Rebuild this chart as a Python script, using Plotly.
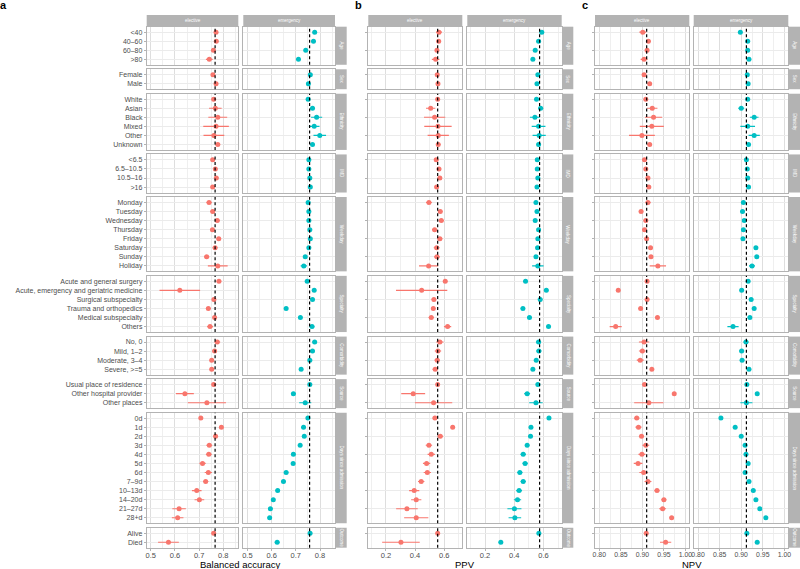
import plotly.graph_objects as go

# ---------------- data ----------------
group_names = ["Age", "Sex", "Ethnicity", "IMD", "Weekday", "Specialty",
               "Comorbidity", "Source", "Days since admission", "Outcome"]
age = ["<40", "40–60", "60–80", ">80"]
sex = ["Female", "Male"]
ethnicity = ["White", "Asian", "Black", "Mixed", "Other", "Unknown"]
imd = ["<6.5", "6.5–10.5", "10.5–16", ">16"]
weekday = ["Monday", "Tuesday", "Wednesday", "Thursday", "Friday", "Saturday", "Sunday", "Holiday"]
specialty = ["Acute and general surgery", "Acute, emergency and geriatric medicine",
             "Surgical subspecialty", "Trauma and orthopedics", "Medical subspecialty", "Others"]
comorbidity = ["No, 0", "Mild, 1–2", "Moderate, 3–4", "Severe, >=5"]
source = ["Usual place of residence", "Other hospital provider", "Other places"]
days = ["0d", "1d", "2d", "3d", "4d", "5d", "6d", "7–9d", "10–13d", "14–20d", "21–27d", "28+d"]
outcome = ["Alive", "Died"]
groups = [age, sex, ethnicity, imd, weekday, specialty, comorbidity, source, days, outcome]

# Balanced accuracy
ba_el = [0.770, 0.771, 0.759, 0.742,
         0.757, 0.770,
         0.760, 0.767, 0.777, 0.770, 0.761, 0.777,
         0.756, 0.767, 0.771, 0.756,
         0.741, 0.756, 0.775, 0.755, 0.781, 0.766, 0.731, 0.777,
         0.782, 0.620, 0.761, 0.738, 0.764, 0.745,
         0.775, 0.764, 0.752, 0.752,
         0.760, 0.641, 0.732,
         0.707, 0.792, 0.768, 0.742, 0.740, 0.714, 0.738, 0.727, 0.690, 0.701, 0.617, 0.611,
         0.760, 0.573]
ba_el_ci = [0.008, 0.008, 0.006, 0.014,
            0.006, 0.006,
            0.006, 0.026, 0.039, 0.053, 0.043, 0.010,
            0.008, 0.008, 0.009, 0.008,
            0.011, 0.010, 0.010, 0.009, 0.010, 0.010, 0.011, 0.041,
            0.009, 0.084, 0.008, 0.010, 0.007, 0.012,
            0.012, 0.010, 0.008, 0.007,
            0.005, 0.037, 0.079,
            0.008, 0.007, 0.010, 0.012, 0.012, 0.013, 0.015, 0.011, 0.020, 0.020, 0.028, 0.024,
            0.005, 0.043]
ba_em = [0.778, 0.773, 0.741, 0.711,
         0.760, 0.752,
         0.751, 0.769, 0.786, 0.776, 0.799, 0.769,
         0.754, 0.754, 0.758, 0.760,
         0.751, 0.754, 0.754, 0.758, 0.760, 0.754, 0.739, 0.733,
         0.747, 0.776, 0.769, 0.660, 0.719, 0.767,
         0.778, 0.769, 0.758, 0.722,
         0.758, 0.690, 0.739,
         0.750, 0.732, 0.735, 0.718, 0.690, 0.689, 0.660, 0.649, 0.625, 0.607, 0.595, 0.592,
         0.759, 0.623]
ba_em_ci = [0.004, 0.004, 0.004, 0.004,
            0.003, 0.003,
            0.003, 0.010, 0.023, 0.022, 0.026, 0.006,
            0.004, 0.004, 0.004, 0.004,
            0.005, 0.005, 0.005, 0.005, 0.005, 0.005, 0.008, 0.013,
            0.005, 0.006, 0.006, 0.006, 0.005, 0.010,
            0.010, 0.008, 0.005, 0.005,
            0.003, 0.010, 0.025,
            0.005, 0.006, 0.006, 0.007, 0.008, 0.008, 0.009, 0.008, 0.008, 0.008, 0.009, 0.009,
            0.003, 0.010]

# PPV
ppv_el = [0.564, 0.562, 0.550, 0.541,
          0.552, 0.557,
          0.555, 0.507, 0.534, 0.557, 0.559, 0.559,
          0.545, 0.564, 0.570, 0.548,
          0.495, 0.573, 0.580, 0.534, 0.570, 0.548, 0.550, 0.493,
          0.607, 0.445, 0.529, 0.525, 0.511, 0.623,
          0.570, 0.557, 0.552, 0.538,
          0.555, 0.387, 0.527,
          0.536, 0.658, 0.573, 0.495, 0.511, 0.479, 0.484, 0.442, 0.394, 0.408, 0.344, 0.408,
          0.555, 0.303]
ppv_el_ci = [0.020, 0.015, 0.012, 0.026,
             0.010, 0.010,
             0.010, 0.032, 0.073, 0.094, 0.073, 0.015,
             0.015, 0.015, 0.015, 0.015,
             0.020, 0.015, 0.018, 0.018, 0.018, 0.020, 0.020, 0.066,
             0.015, 0.176, 0.015, 0.015, 0.018, 0.025,
             0.025, 0.022, 0.018, 0.018,
             0.010, 0.082, 0.128,
             0.015, 0.010, 0.020, 0.022, 0.025, 0.025, 0.025, 0.022, 0.035, 0.035, 0.074, 0.083,
             0.010, 0.129]
ppv_em = [0.588, 0.566, 0.543, 0.527,
          0.561, 0.555,
          0.552, 0.580, 0.541, 0.566, 0.570, 0.566,
          0.557, 0.557, 0.561, 0.555,
          0.548, 0.555, 0.543, 0.566, 0.561, 0.559, 0.548, 0.561,
          0.477, 0.619, 0.577, 0.459, 0.504, 0.634,
          0.566, 0.568, 0.550, 0.527,
          0.561, 0.488, 0.548,
          0.637, 0.514, 0.511, 0.488, 0.461, 0.474, 0.438, 0.461, 0.433, 0.422, 0.401, 0.404,
          0.568, 0.308]
ppv_em_ci = [0.008, 0.008, 0.008, 0.008,
             0.006, 0.006,
             0.006, 0.018, 0.034, 0.047, 0.045, 0.010,
             0.008, 0.008, 0.008, 0.008,
             0.010, 0.010, 0.010, 0.010, 0.010, 0.010, 0.012, 0.039,
             0.008, 0.010, 0.015, 0.015, 0.010, 0.015,
             0.018, 0.018, 0.012, 0.010,
             0.006, 0.020, 0.046,
             0.010, 0.012, 0.012, 0.015, 0.018, 0.018, 0.018, 0.018, 0.020, 0.025, 0.048, 0.043,
             0.008, 0.015]

# NPV
npv_el = [0.901, 0.914, 0.911, 0.904,
          0.904, 0.917,
          0.908, 0.923, 0.926, 0.922, 0.899, 0.917,
          0.905, 0.908, 0.913, 0.915,
          0.913, 0.897, 0.908, 0.905, 0.910, 0.919, 0.920, 0.936,
          0.911, 0.844, 0.911, 0.896, 0.935, 0.838,
          0.904, 0.900, 0.895, 0.922,
          0.905, 0.974, 0.915,
          0.887, 0.891, 0.898, 0.908, 0.899, 0.890, 0.903, 0.913, 0.934, 0.950, 0.947, 0.968,
          0.909, 0.954]
npv_el_ci = [0.008, 0.005, 0.004, 0.008,
             0.004, 0.004,
             0.004, 0.012, 0.020, 0.028, 0.030, 0.005,
             0.005, 0.004, 0.004, 0.004,
             0.006, 0.005, 0.005, 0.005, 0.005, 0.005, 0.005, 0.019,
             0.004, 0.003, 0.005, 0.005, 0.003, 0.014,
             0.012, 0.008, 0.008, 0.004,
             0.003, 0.003, 0.034,
             0.006, 0.007, 0.006, 0.008, 0.008, 0.010, 0.010, 0.008, 0.006, 0.006, 0.008, 0.005,
             0.002, 0.013]
npv_em = [0.898, 0.915, 0.915, 0.918,
          0.914, 0.916,
          0.915, 0.900, 0.930, 0.915, 0.930, 0.917,
          0.912, 0.914, 0.915, 0.917,
          0.905, 0.903, 0.907, 0.905, 0.904, 0.934, 0.936, 0.925,
          0.916, 0.901, 0.923, 0.930, 0.920, 0.881,
          0.911, 0.901, 0.902, 0.918,
          0.913, 0.937, 0.912,
          0.853, 0.886, 0.900, 0.909, 0.911, 0.916, 0.909, 0.918, 0.928, 0.934, 0.943, 0.957,
          0.913, 0.937]
npv_em_ci = [0.004, 0.002, 0.002, 0.003,
             0.002, 0.002,
             0.002, 0.007, 0.010, 0.017, 0.013, 0.003,
             0.003, 0.003, 0.003, 0.003,
             0.004, 0.004, 0.004, 0.004, 0.004, 0.003, 0.003, 0.007,
             0.003, 0.002, 0.004, 0.003, 0.003, 0.013,
             0.006, 0.006, 0.005, 0.003,
             0.002, 0.003, 0.014,
             0.004, 0.003, 0.003, 0.003, 0.003, 0.004, 0.004, 0.003, 0.003, 0.003, 0.004, 0.003,
             0.002, 0.004]

facet_names = ["elective", "emergency"]
overall = {"ba": (0.766, 0.757), "ppv": (0.555, 0.573), "npv": (0.910, 0.912)}

# ---------------- layout helpers ----------------
W, H = 800, 569
FONT = "Liberation Sans, Arial, sans-serif"
COLS = ["#F8766D", "#00BFC4"]
GREY = "#B3B3B3"


def fx(px):
    return px / W


def fy(py):
    return 1 - py / H


def note(x, y, text, size, color, angle=0):
    return dict(x=fx(x), y=fy(y), xref="paper", yref="paper", text=text, showarrow=False,
                xanchor="center", yanchor="middle", textangle=angle,
                font=dict(size=size, color=color, family=FONT))


panels = [
    dict(key="ba", title="Balanced accuracy", tag="a", tagx=3.5, vals=[ba_el, ba_em], cis=[ba_el_ci, ba_em_ci],
         rng=[0.483, 0.862], tick0=0.5, dtick=0.1, minor=0.05, fmt=".1f", tsize=7.5,
         cols=[(146.7, 238.3), (243.3, 335.0)], strip=(336.0, 346.7)),
    dict(key="ppv", title="PPV", tag="b", tagx=358.5, vals=[ppv_el, ppv_em], cis=[ppv_el_ci, ppv_em_ci],
         rng=[0.079, 0.724], tick0=0.2, dtick=0.2, minor=0.1, fmt=".1f", tsize=7.5,
         cols=[(368.3, 462.3), (467.3, 561.7)], strip=(562.7, 573.3)),
    dict(key="npv", title="NPV", tag="c", tagx=584.5, vals=[npv_el, npv_em], cis=[npv_el_ci, npv_em_ci],
         rng=[0.790, 1.009], tick0=0.8, dtick=0.05, minor=0.025, fmt=".2f", tsize=6.9,
         cols=[(595.0, 689.3), (693.7, 788.3)], strip=(789.0, 800.0)),
]

top, bottom, gap = 26.7, 547.7, 4.5
units = [len(g) + 0.2 for g in groups]
ppu = (bottom - top - gap * (len(groups) - 1)) / sum(units)
row_y = []
y = top
for u in units:
    row_y.append((y, y + u * ppu))
    y += u * ppu + gap

fig = go.Figure()
shapes = []
annotations = []
layout_axes = {}
k = 0
for p, P in enumerate(panels):
    for f in range(2):
        x0, x1 = P["cols"][f]
        start = 0
        for r, cats in enumerate(groups):
            k += 1
            n = len(cats)
            xa = "x" if k == 1 else f"x{k}"
            ya = "y" if k == 1 else f"y{k}"
            vals = P["vals"][f][start:start + n]
            cis = P["cis"][f][start:start + n]
            start += n
            fig.add_trace(go.Scatter(
                x=vals, y=cats, mode="markers", xaxis=xa, yaxis=ya, showlegend=False,
                marker=dict(color=COLS[f], size=5),
                error_x=dict(type="data", array=cis, symmetric=True, thickness=1.1, width=0, color=COLS[f]),
                hoverinfo="x+y"))
            y0, y1 = row_y[r]
            bottom_row = (r == len(groups) - 1)
            layout_axes["xaxis" if k == 1 else f"xaxis{k}"] = dict(
                domain=[fx(x0), fx(x1)], range=P["rng"], anchor=ya, tick0=P["tick0"], dtick=P["dtick"],
                tickformat=P["fmt"], showticklabels=bottom_row, ticks="outside" if bottom_row else "",
                ticklen=2, tickcolor=GREY, tickfont=dict(size=P["tsize"], color="#4D4D4D", family=FONT),
                ticklabelstandoff=-2,
                showgrid=True, gridcolor="#DEDEDE", gridwidth=0.6,
                minor=dict(dtick=P["minor"], tick0=P["tick0"], showgrid=True, gridcolor="#EFEFEF", gridwidth=0.4),
                showline=True, mirror=True, linecolor=GREY, linewidth=0.8, zeroline=False,
                automargin=False, fixedrange=True)
            layout_axes["yaxis" if k == 1 else f"yaxis{k}"] = dict(
                domain=[fy(y1), fy(y0)], type="category", categoryorder="array", categoryarray=cats,
                range=[n - 0.4, -0.6], anchor=xa, showticklabels=(p == 0 and f == 0),
                ticks="outside" if f == 0 else "", ticklen=2, tickcolor=GREY,
                tickfont=dict(size=7, color="#4D4D4D", family=FONT),
                showgrid=True, gridcolor="#EBEBEB", gridwidth=0.5,
                showline=True, mirror=True, linecolor=GREY, linewidth=0.8, zeroline=False,
                automargin=False, fixedrange=True)
            ref = overall[P["key"]][f]
            shapes.append(dict(type="line", xref=xa, yref=f"{ya} domain", x0=ref, x1=ref, y0=0, y1=1,
                               line=dict(color="black", width=1.2, dash="3px,2.5px"), layer="above"))
        # top strip
        shapes.append(dict(type="rect", xref="paper", yref="paper", x0=fx(x0), x1=fx(x1),
                           y0=fy(26.7), y1=fy(15.0), fillcolor=GREY, line=dict(width=0), layer="below"))
        annotations.append(note((x0 + x1) / 2, 20.85, facet_names[f], 4.5, "white"))
    # right strips
    s0, s1 = P["strip"]
    for r, name in enumerate(group_names):
        y0, y1 = row_y[r]
        shapes.append(dict(type="rect", xref="paper", yref="paper", x0=fx(s0), x1=fx(s1),
                           y0=fy(y1), y1=fy(y0), fillcolor=GREY, line=dict(width=0), layer="below"))
        annotations.append(note((s0 + s1) / 2, (y0 + y1) / 2, name, 4.5, "white", angle=90))
    # axis title
    cx = (P["cols"][0][0] + P["cols"][1][1]) / 2
    annotations.append(note(cx, 564.5, P["title"], 9.5, "black"))
    # panel tag
    annotations.append(note(P["tagx"], 5.5, "<b>" + P["tag"] + "</b>", 11, "black"))

fig.update_layout(
    width=W, height=H, margin=dict(l=0, r=0, t=0, b=0),
    paper_bgcolor="white", plot_bgcolor="white", template="none",
    font=dict(family=FONT), shapes=shapes, annotations=annotations, showlegend=False,
    **layout_axes)

fig.write_html("out.html", config={"displayModeBar": False},
               post_script="document.body.style.margin='0px';document.body.style.overflow='hidden';")
